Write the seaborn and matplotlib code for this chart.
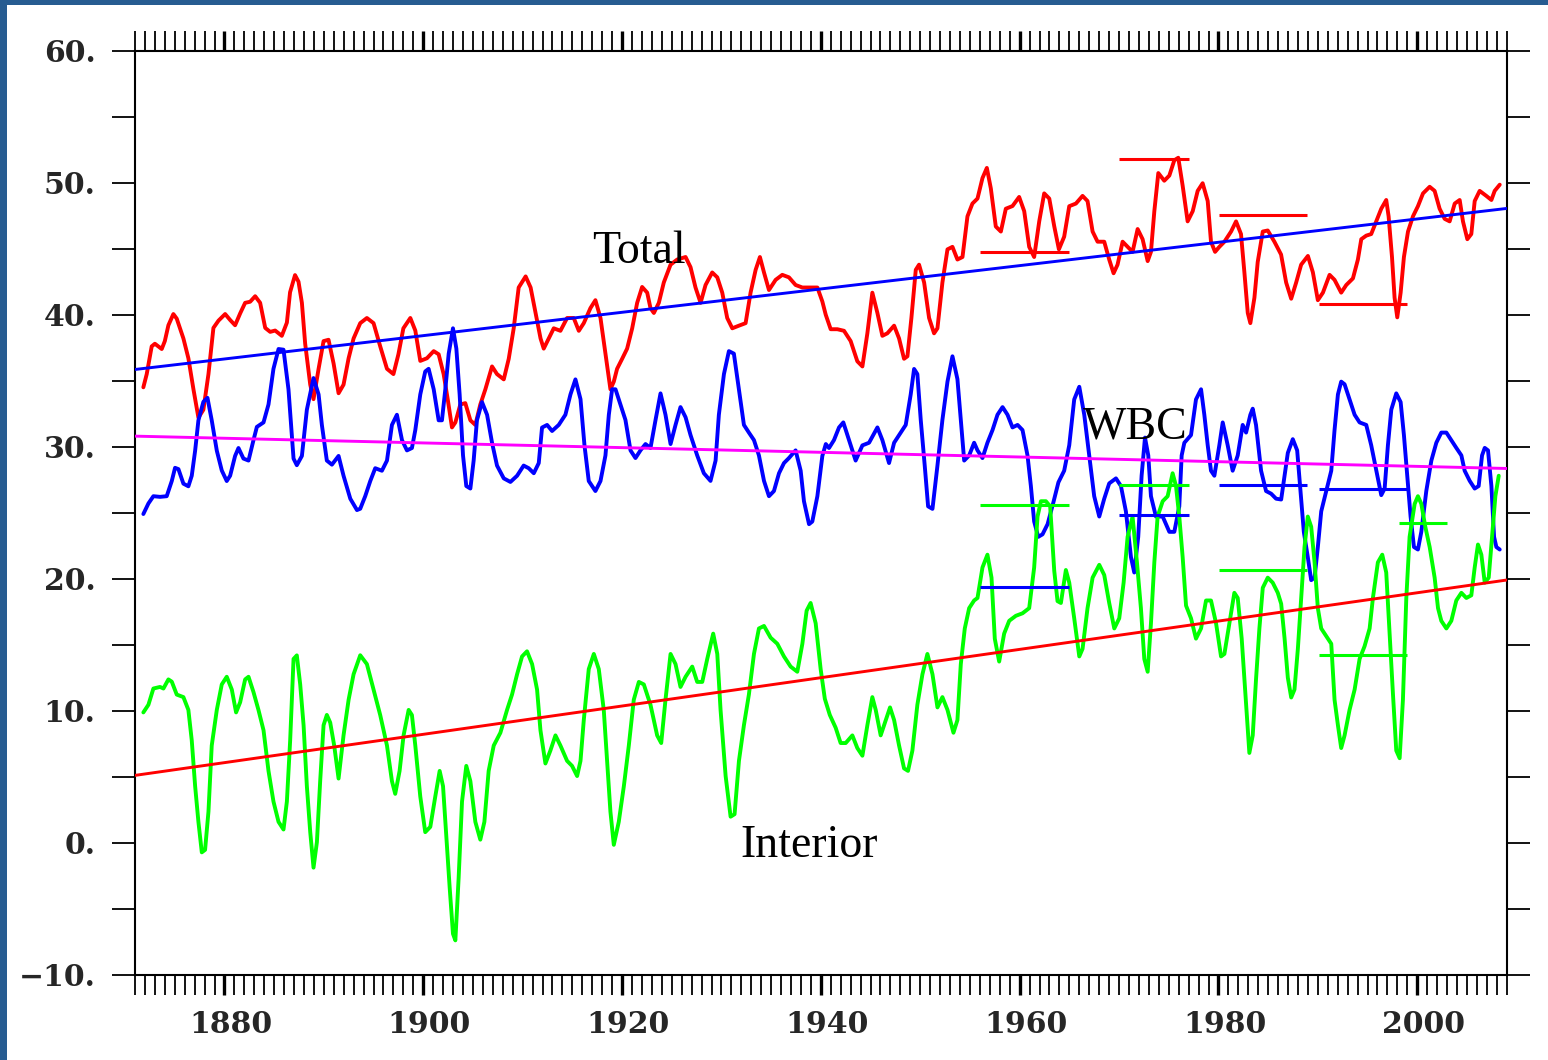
import matplotlib
matplotlib.use("Agg")
import matplotlib.pyplot as plt
import pandas as pd
import seaborn as sns
from matplotlib.ticker import MultipleLocator, FuncFormatter
from matplotlib.transforms import ScaledTranslation
from matplotlib.patches import Rectangle

# ---------------------------------------------------------------- data
total_years = [
    1871.84, 1872.18, 1872.68, 1873.0, 1873.69, 1874.0, 1874.36, 1874.86, 1875.2, 1875.87,
    1876.37, 1876.88, 1877.38, 1877.88, 1878.39, 1878.89, 1879.4, 1880.07, 1880.57, 1881.07,
    1881.58, 1882.08, 1882.58, 1883.09, 1883.59, 1884.1, 1884.6, 1885.1, 1885.77, 1886.28,
    1886.6, 1887.1, 1887.45, 1887.79, 1888.12, 1888.63, 1888.96, 1889.47, 1889.97, 1890.47,
    1890.98, 1891.48, 1891.98, 1892.49, 1892.99, 1893.66, 1894.33, 1895.0, 1895.67, 1896.35,
    1897.0, 1897.5, 1898.0, 1898.7, 1899.2, 1899.7, 1900.37, 1901.05, 1901.55, 1902.05,
    1902.46, 1902.89, 1903.23, 1903.73, 1904.23, 1904.74, 1905.24, 1905.74, 1906.25, 1906.92,
    1907.42, 1908.1, 1908.6, 1909.1, 1909.6, 1910.3, 1910.8, 1911.3, 1911.8, 1912.12,
    1912.63, 1913.13, 1913.8, 1914.47, 1915.14, 1915.65, 1916.15, 1916.82, 1917.32, 1917.83,
    1918.33, 1918.83, 1919.17, 1919.5, 1920.01, 1920.51, 1921.02, 1921.52, 1922.02, 1922.53,
    1922.86, 1923.2, 1923.7, 1924.2, 1924.88, 1925.55, 1926.39, 1926.89, 1927.39, 1927.9,
    1928.4, 1929.07, 1929.58, 1930.08, 1930.58, 1931.09, 1931.76, 1932.43, 1932.93, 1933.44,
    1933.87, 1934.28, 1934.78, 1935.45, 1936.12, 1936.79, 1937.46, 1938.14, 1938.97, 1939.65,
    1940.15, 1940.49, 1940.99, 1941.66, 1942.33, 1943.0, 1943.67, 1944.18, 1944.68, 1945.18,
    1945.69, 1946.19, 1946.69, 1947.37, 1947.87, 1948.37, 1948.71, 1949.11, 1949.55, 1949.88,
    1950.39, 1950.89, 1951.39, 1951.73, 1952.23, 1952.74, 1953.24, 1953.74, 1954.25, 1954.75,
    1955.25, 1955.76, 1956.26, 1956.7, 1957.1, 1957.6, 1958.11, 1958.61, 1959.28, 1959.95,
    1960.46, 1960.96, 1961.46, 1961.97, 1962.47, 1962.98, 1963.48, 1963.95, 1964.48, 1964.99,
    1965.66, 1966.33, 1966.83, 1967.34, 1967.84, 1968.51, 1969.01, 1969.45, 1969.85, 1970.36,
    1970.86, 1971.36, 1971.87, 1972.37, 1972.88, 1973.21, 1973.55, 1973.95, 1974.55, 1975.06,
    1975.56, 1975.96, 1976.4, 1976.9, 1977.41, 1977.91, 1978.41, 1978.92, 1979.25, 1979.66,
    1980.09, 1980.6, 1981.27, 1981.77, 1982.27, 1982.61, 1982.95, 1983.21, 1983.62, 1983.95,
    1984.46, 1984.96, 1985.63, 1986.3, 1986.81, 1987.32, 1987.82, 1988.32, 1989.0, 1989.5,
    1990.0, 1990.51, 1991.18, 1991.68, 1992.35, 1992.86, 1993.53, 1994.03, 1994.37, 1994.87,
    1995.37, 1995.88, 1996.38, 1996.88, 1997.12, 1997.46, 1997.72, 1997.99, 1998.33, 1998.66,
    1999.07, 1999.57, 2000.07, 2000.58, 2001.25, 2001.75, 2002.25, 2002.76, 2003.26, 2003.77,
    2004.27, 2004.6, 2005.04, 2005.44, 2005.78, 2006.28, 2006.95, 2007.46, 2007.79, 2008.3,
]
total_values = [
    34.5, 35.5, 37.6, 37.8, 37.4, 38.0, 39.2, 40.05, 39.7, 38.2,
    36.7, 34.35, 32.2, 32.8, 35.5, 39.0, 39.55, 40.05, 39.6, 39.2,
    40.1, 40.9, 40.98, 41.4, 40.9, 39.0, 38.7, 38.8, 38.4, 39.4,
    41.7, 43.0, 42.5, 40.9, 37.8, 34.7, 33.6, 35.9, 38.0, 38.1,
    36.3, 34.05, 34.7, 36.7, 38.2, 39.36, 39.75, 39.36, 37.6, 35.9,
    35.5, 37.0, 38.97, 39.75, 38.8, 36.5, 36.7, 37.24, 37.0, 35.5,
    33.6, 31.46, 31.84, 33.2, 33.3, 32.0, 31.65, 33.2, 34.35, 36.08,
    35.5, 35.1, 36.66, 38.97, 42.06, 42.9, 42.06, 40.13, 38.2, 37.43,
    38.2, 38.97, 38.78, 39.75, 39.75, 38.78, 39.36, 40.5, 41.1, 39.75,
    37.05, 34.35, 34.93, 35.9, 36.66, 37.43, 38.97, 40.9, 42.1, 41.67,
    40.5, 40.13, 40.9, 42.44, 43.79, 44.18, 44.37, 43.6, 42.06, 40.9,
    42.25, 43.2, 42.83, 41.67, 39.75, 38.97, 39.17, 39.36, 41.67, 43.4,
    44.37, 43.2, 41.87, 42.64, 43.02, 42.83, 42.25, 42.06, 42.06, 42.06,
    41.0, 40.0, 38.9, 38.9, 38.78, 38.0, 36.47, 36.08, 38.59, 41.67,
    40.13, 38.4, 38.59, 39.17, 38.2, 36.66, 36.85, 39.75, 43.4, 43.79,
    42.44, 39.75, 38.59, 38.97, 42.44, 44.95, 45.14, 44.18, 44.37, 47.45,
    48.42, 48.8, 50.35, 51.12, 49.57, 46.68, 46.3, 48.03, 48.23, 48.92,
    47.84, 45.14, 44.37, 47.07, 49.19, 48.8, 46.7, 44.95, 45.91, 48.22,
    48.42, 49.0, 48.61, 46.3, 45.53, 45.53, 44.18, 43.14, 43.79, 45.53,
    45.14, 44.76, 46.49, 45.72, 44.06, 44.76, 47.84, 50.73, 50.15, 50.54,
    51.7, 51.89, 49.77, 47.07, 47.84, 49.38, 49.96, 48.61, 45.53, 44.76,
    45.14, 45.53, 46.3, 47.07, 46.11, 43.21, 40.13, 39.36, 41.29, 43.99,
    46.3, 46.38, 45.53, 44.56, 42.44, 41.21, 42.44, 43.79, 44.45, 43.21,
    41.1, 41.67, 43.02, 42.64, 41.67, 42.25, 42.75, 44.18, 45.72, 45.99,
    46.11, 47.07, 48.03, 48.69, 47.45, 44.37, 41.29, 39.8, 41.67, 44.37,
    46.3, 47.45, 48.22, 49.19, 49.69, 49.38, 48.03, 47.26, 47.07, 48.42,
    48.69, 47.07, 45.72, 46.11, 48.61, 49.38, 49.0, 48.69, 49.38, 49.85,
]

wbc_years = [
    1871.84, 1872.35, 1872.85, 1873.52, 1874.19, 1874.7, 1875.03, 1875.37, 1875.87, 1876.37,
    1876.71, 1877.05, 1877.38, 1877.88, 1878.29, 1878.72, 1879.23, 1879.73, 1880.23, 1880.57,
    1881.07, 1881.41, 1881.91, 1882.42, 1882.92, 1883.26, 1883.93, 1884.43, 1884.93, 1885.44,
    1885.94, 1886.44, 1886.95, 1887.28, 1887.79, 1888.29, 1888.96, 1889.47, 1889.8, 1890.3,
    1890.81, 1891.48, 1891.98, 1892.66, 1893.33, 1893.66, 1894.16, 1894.67, 1895.17, 1895.84,
    1896.35, 1896.85, 1897.35, 1897.86, 1898.36, 1898.86, 1899.2, 1899.7, 1900.2, 1900.54,
    1901.05, 1901.55, 1901.88, 1902.22, 1902.56, 1902.99, 1903.33, 1903.66, 1904.0, 1904.33,
    1904.74, 1905.07, 1905.4, 1905.91, 1906.42, 1906.92, 1907.42, 1908.1, 1908.77, 1909.44,
    1910.1, 1910.61, 1911.12, 1911.62, 1911.95, 1912.46, 1912.96, 1913.63, 1914.3, 1914.81,
    1915.31, 1915.82, 1916.22, 1916.65, 1917.32, 1917.83, 1918.33, 1918.67, 1919.0, 1919.34,
    1919.84, 1920.34, 1920.85, 1921.35, 1921.85, 1922.36, 1922.86, 1923.37, 1923.87, 1924.37,
    1924.88, 1925.38, 1925.88, 1926.39, 1926.89, 1927.56, 1928.23, 1928.9, 1929.41, 1929.74,
    1930.25, 1930.75, 1931.25, 1931.76, 1932.26, 1932.76, 1933.27, 1933.77, 1934.28, 1934.78,
    1935.28, 1935.79, 1936.29, 1936.79, 1937.46, 1937.97, 1938.3, 1938.81, 1939.14, 1939.65,
    1940.15, 1940.5, 1940.82, 1941.32, 1941.83, 1942.26, 1942.83, 1943.5, 1944.18, 1944.85,
    1945.69, 1946.19, 1946.86, 1947.37, 1948.04, 1948.54, 1949.04, 1949.38, 1949.71, 1950.05,
    1950.45, 1950.79, 1951.23, 1951.73, 1952.23, 1952.74, 1953.24, 1953.74, 1954.08, 1954.42,
    1954.92, 1955.42, 1955.76, 1956.26, 1956.76, 1957.27, 1957.77, 1958.28, 1958.78, 1959.28,
    1959.79, 1960.29, 1960.79, 1961.13, 1961.46, 1961.87, 1962.3, 1962.81, 1963.4, 1963.9,
    1964.48, 1964.99, 1965.49, 1966.0, 1966.5, 1967.0, 1967.5, 1968.01, 1968.51, 1969.01,
    1969.69, 1970.19, 1970.69, 1971.2, 1971.53, 1971.93, 1972.27, 1972.61, 1972.94, 1973.21,
    1973.71, 1974.39, 1975.06, 1975.56, 1976.06, 1976.3, 1976.57, 1977.24, 1977.74, 1978.25,
    1978.58, 1978.92, 1979.25, 1979.59, 1980.09, 1980.43, 1980.93, 1981.43, 1981.94, 1982.44,
    1982.78, 1983.21, 1983.45, 1983.78, 1984.29, 1984.79, 1985.3, 1985.8, 1986.31, 1986.65,
    1986.98, 1987.48, 1987.92, 1988.26, 1988.59, 1988.99, 1989.33, 1989.67, 1990.0, 1990.34,
    1990.84, 1991.35, 1991.68, 1992.02, 1992.35, 1992.69, 1993.19, 1993.7, 1994.2, 1994.87,
    1995.37, 1995.88, 1996.38, 1996.72, 1997.05, 1997.39, 1997.89, 1998.33, 1998.66, 1999.0,
    1999.33, 1999.67, 2000.07, 2000.41, 2000.91, 2001.42, 2001.92, 2002.42, 2002.93, 2003.43,
    2003.93, 2004.44, 2004.77, 2005.28, 2005.78, 2006.18, 2006.52, 2006.79, 2007.12, 2007.46,
    2007.73, 2007.96, 2008.3,
]
wbc_values = [
    24.9, 25.7, 26.25, 26.2, 26.25, 27.4, 28.4, 28.3, 27.2, 27.0,
    27.8, 29.7, 32.0, 33.4, 33.7, 32.0, 29.7, 28.2, 27.4, 27.8,
    29.3, 29.9, 29.1, 28.95, 30.5, 31.5, 31.84, 33.2, 35.9, 37.4,
    37.35, 34.35, 29.1, 28.6, 29.3, 32.8, 35.2, 33.96, 31.65, 28.95,
    28.64, 29.3, 27.8, 26.06, 25.2, 25.3, 26.25, 27.4, 28.37, 28.18,
    28.95, 31.65, 32.42, 30.5, 29.72, 29.9, 31.26, 33.96, 35.7, 35.9,
    34.35, 32.0, 32.0, 34.35, 37.05, 38.97, 37.43, 33.96, 29.34, 27.02,
    26.83, 28.95, 32.0, 33.38, 32.42, 30.3, 28.57, 27.6, 27.33, 27.8,
    28.57, 28.37, 27.99, 28.76, 31.45, 31.65, 31.19, 31.65, 32.42, 33.96,
    35.1, 33.6, 30.1, 27.4, 26.64, 27.4, 29.34, 32.42, 34.35, 34.35,
    33.19, 32.03, 29.72, 29.14, 29.72, 30.2, 29.9, 32.03, 34.04, 32.42,
    30.2, 31.65, 33.0, 32.23, 30.88, 29.34, 27.99, 27.41, 28.95, 32.42,
    35.5, 37.24, 37.05, 34.35, 31.65, 31.07, 30.5, 29.34, 27.41, 26.25,
    26.64, 27.99, 28.76, 29.14, 29.72, 28.18, 25.87, 24.13, 24.33, 26.25,
    29.3, 30.2, 29.9, 30.5, 31.46, 31.84, 30.5, 28.95, 30.1, 30.3,
    31.46, 30.5, 28.76, 30.3, 31.07, 31.65, 33.96, 35.89, 35.5, 32.03,
    28.57, 25.48, 25.29, 28.57, 32.03, 34.93, 36.85, 35.12, 32.03, 28.95,
    29.34, 30.3, 29.72, 29.14, 30.3, 31.26, 32.42, 33.0, 32.42, 31.46,
    31.65, 31.26, 29.34, 27.02, 24.33, 23.17, 23.36, 24.13, 25.8, 27.3,
    28.18, 30.11, 33.58, 34.54, 32.42, 29.34, 26.25, 24.71, 26.06, 27.22,
    27.6, 27.02, 25.1, 21.63, 20.47, 23.17, 27.8, 30.69, 29.34, 26.25,
    24.71, 24.71, 23.55, 23.55, 25.48, 29.34, 30.3, 30.88, 33.58, 34.35,
    32.42, 30.11, 28.18, 27.8, 30.11, 31.84, 30.11, 28.18, 29.34, 31.65,
    31.07, 32.42, 32.88, 31.65, 28.18, 26.64, 26.44, 26.06, 26.0, 27.8,
    29.53, 30.57, 29.72, 26.64, 23.55, 21.63, 19.89, 20.08, 22.4, 25.1,
    26.64, 28.18, 31.26, 33.96, 34.93, 34.73, 33.58, 32.42, 31.84, 31.65,
    30.11, 28.18, 26.33, 26.83, 30.11, 32.81, 34.04, 33.38, 30.88, 27.8,
    24.71, 22.4, 22.21, 23.55, 26.64, 28.95, 30.3, 31.07, 31.07, 30.49,
    29.91, 29.34, 28.18, 27.41, 26.83, 27.02, 29.34, 29.91, 29.72, 27.02,
    23.17, 22.4, 22.21,
]

interior_years = [
    1871.84, 1872.35, 1872.85, 1873.52, 1873.86, 1874.36, 1874.7, 1875.2, 1875.87, 1876.37,
    1876.71, 1877.05, 1877.38, 1877.72, 1878.05, 1878.39, 1878.72, 1879.23, 1879.73, 1880.23,
    1880.74, 1881.17, 1881.58, 1882.08, 1882.42, 1882.92, 1883.42, 1883.93, 1884.43, 1884.93,
    1885.44, 1885.94, 1886.28, 1886.61, 1886.95, 1887.28, 1887.62, 1887.96, 1888.29, 1888.63,
    1888.96, 1889.3, 1889.63, 1889.97, 1890.3, 1890.64, 1891.04, 1891.48, 1891.98, 1892.49,
    1892.99, 1893.66, 1894.33, 1895.0, 1895.67, 1896.35, 1896.85, 1897.18, 1897.62, 1898.02,
    1898.53, 1898.86, 1899.2, 1899.7, 1900.2, 1900.71, 1901.21, 1901.65, 1901.99, 1902.32,
    1902.66, 1902.99, 1903.23, 1903.56, 1903.9, 1904.33, 1904.74, 1905.24, 1905.74, 1906.15,
    1906.58, 1907.09, 1907.76, 1908.43, 1908.93, 1909.44, 1909.94, 1910.44, 1910.95, 1911.45,
    1911.79, 1912.29, 1912.79, 1913.3, 1913.8, 1914.47, 1914.97, 1915.48, 1915.82, 1916.15,
    1916.65, 1917.16, 1917.66, 1918.16, 1918.5, 1918.83, 1919.17, 1919.67, 1920.18, 1920.68,
    1921.18, 1921.69, 1922.19, 1922.86, 1923.53, 1923.94, 1924.37, 1924.88, 1925.38, 1925.88,
    1926.39, 1927.06, 1927.56, 1928.07, 1928.57, 1929.17, 1929.58, 1929.91, 1930.42, 1930.92,
    1931.32, 1931.76, 1932.26, 1932.76, 1933.27, 1933.77, 1934.28, 1934.95, 1935.62, 1936.29,
    1936.96, 1937.63, 1938.14, 1938.57, 1938.97, 1939.48, 1939.98, 1940.4, 1940.9, 1941.49,
    1941.99, 1942.5, 1943.17, 1943.67, 1944.18, 1944.68, 1945.18, 1945.52, 1946.02, 1946.53,
    1946.96, 1947.37, 1947.87, 1948.37, 1948.77, 1949.21, 1949.71, 1950.22, 1950.72, 1951.23,
    1951.73, 1952.23, 1952.74, 1953.34, 1953.74, 1954.08, 1954.48, 1954.92, 1955.42, 1955.76,
    1956.26, 1956.76, 1957.17, 1957.5, 1957.94, 1958.44, 1958.95, 1959.62, 1960.29, 1960.96,
    1961.46, 1961.8, 1962.14, 1962.64, 1963.07, 1963.48, 1963.81, 1964.15, 1964.65, 1964.99,
    1965.49, 1966.0, 1966.33, 1966.83, 1967.34, 1968.01, 1968.51, 1969.01, 1969.52, 1970.02,
    1970.46, 1970.86, 1971.36, 1971.8, 1972.2, 1972.54, 1972.88, 1973.21, 1973.55, 1973.88,
    1974.39, 1974.89, 1975.39, 1975.73, 1976.06, 1976.4, 1976.74, 1977.24, 1977.74, 1978.25,
    1978.75, 1979.25, 1979.76, 1980.26, 1980.6, 1981.1, 1981.6, 1981.94, 1982.34, 1982.68,
    1983.11, 1983.45, 1983.78, 1984.12, 1984.46, 1984.96, 1985.46, 1985.97, 1986.31, 1986.65,
    1986.98, 1987.32, 1987.65, 1987.99, 1988.32, 1988.66, 1988.99, 1989.33, 1989.67, 1990.0,
    1990.34, 1990.84, 1991.35, 1991.68, 1992.02, 1992.35, 1992.69, 1993.19, 1993.7, 1994.2,
    1994.7, 1995.21, 1995.54, 1996.04, 1996.48, 1996.88, 1997.22, 1997.56, 1997.89, 1998.23,
    1998.56, 1998.9, 1999.23, 1999.74, 2000.07, 2000.41, 2000.81, 2001.25, 2001.75, 2002.09,
    2002.42, 2002.93, 2003.43, 2003.93, 2004.44, 2004.94, 2005.44, 2005.78, 2006.11, 2006.45,
    2006.79, 2007.19, 2007.53, 2007.86, 2008.2,
]
interior_values = [
    9.87, 10.45, 11.68, 11.8, 11.68, 12.37, 12.2, 11.22, 11.03, 10.06,
    7.75, 4.28, 1.58, -0.73, -0.54, 2.35, 7.36, 10.06, 11.99, 12.57,
    11.6, 9.87, 10.64, 12.37, 12.57, 11.41, 10.06, 8.52, 5.44, 3.12,
    1.58, 1.0, 3.12, 7.75, 13.92, 14.19, 11.99, 8.9, 4.28, 0.8,
    -1.89, 0.04, 4.67, 8.9, 9.68, 9.1, 7.36, 4.86, 8.13, 10.83,
    12.76, 14.2, 13.53, 11.6, 9.67, 7.36, 4.66, 3.7, 5.44, 8.13,
    10.06, 9.67, 7.36, 3.5, 0.8, 1.2, 3.5, 5.44, 4.28, 0.42,
    -3.43, -6.9, -7.4, -2.66, 3.12, 5.82, 4.66, 1.58, 0.23, 1.58,
    5.44, 7.36, 8.33, 10.06, 11.22, 12.76, 14.11, 14.5, 13.53, 11.6,
    8.52, 6.0, 6.98, 8.13, 7.36, 6.2, 5.82, 5.05, 6.2, 9.29,
    13.15, 14.3, 13.15, 10.06, 6.2, 2.35, -0.16, 1.58, 4.28, 7.36,
    10.83, 12.18, 11.99, 10.45, 8.13, 7.55, 10.83, 14.3, 13.53, 11.8,
    12.57, 13.34, 12.18, 12.18, 13.92, 15.84, 14.3, 10.06, 5.05, 1.97,
    2.16, 6.2, 8.9, 11.22, 14.3, 16.23, 16.42, 15.53, 15.07, 14.11,
    13.34, 12.95, 15.07, 17.58, 18.16, 16.62, 13.15, 10.9, 9.68, 8.71,
    7.55, 7.55, 8.13, 7.17, 6.59, 8.9, 11.03, 10.06, 8.13, 9.29,
    10.25, 9.29, 7.36, 5.63, 5.44, 6.98, 10.45, 12.76, 14.3, 12.76,
    10.25, 11.03, 10.06, 8.33, 9.29, 13.53, 16.23, 17.77, 18.35, 18.54,
    20.85, 21.82, 20.08, 15.45, 13.72, 15.84, 16.81, 17.19, 17.38, 17.77,
    20.85, 24.71, 25.87, 25.87, 25.48, 20.6, 18.3, 18.16, 20.66, 19.7,
    17.0, 14.11, 14.69, 17.77, 20.08, 21.05, 20.28, 18.16, 16.23, 17.0,
    19.7, 23.17, 24.71, 21.24, 17.77, 13.92, 12.95, 16.62, 21.24, 24.71,
    25.87, 26.25, 27.99, 27.02, 24.71, 21.63, 17.96, 17.0, 15.46, 16.23,
    18.35, 18.35, 16.62, 14.11, 14.3, 16.62, 18.93, 18.54, 15.46, 11.6,
    6.8, 8.13, 12.37, 16.23, 19.31, 20.08, 19.7, 18.93, 18.1, 15.5,
    12.5, 11.0, 11.6, 14.69, 18.54, 22.4, 24.71, 23.94, 21.24, 17.77,
    16.23, 15.65, 15.07, 10.83, 8.9, 7.17, 8.13, 10.06, 11.6, 13.92,
    14.88, 16.23, 18.54, 21.24, 21.82, 20.47, 15.84, 11.22, 6.98, 6.4,
    10.83, 18.54, 23.17, 25.67, 26.25, 25.67, 23.94, 22.4, 20.08, 17.77,
    16.81, 16.23, 16.81, 18.35, 18.93, 18.54, 18.74, 20.85, 22.59, 21.82,
    19.7, 20.08, 23.17, 26.25, 27.8,
]

# linear trends, given by their end points
trend_years = [1871.0, 2009.0]
total_trend = [35.85, 48.05]
wbc_trend = [30.8, 28.35]
interior_trend = [5.1, 19.9]

# period means: start year, end year, level
red_period_start = [1956.0, 1970.0, 1980.1, 1990.1]
red_period_end = [1965.0, 1977.0, 1988.9, 1999.0]
red_period_level = [44.75, 51.8, 47.55, 40.8]

blue_period_start = [1956.0, 1970.0, 1980.1, 1990.1]
blue_period_end = [1965.0, 1977.0, 1988.9, 1999.0]
blue_period_level = [19.4, 24.8, 27.1, 26.8]

green_period_start = [1956.0, 1970.0, 1980.1, 1990.1, 1998.2]
green_period_end = [1965.0, 1977.0, 1988.9, 1999.0, 2003.0]
green_period_level = [25.6, 27.1, 20.65, 14.2, 24.2]

y_tick_values = [-10, 0, 10, 20, 30, 40, 50, 60]
x_tick_years = [1880, 1900, 1920, 1940, 1960, 1980, 2000]

# ---------------------------------------------------------------- style
sns.set_style("ticks")
plt.rcParams["font.family"] = ["DejaVu Serif", "DejaVu Sans"]

RED = "#ff0000"
BLUE = "#0000ff"
GREEN = "#00ff00"
MAGENTA = "#ff00ff"
FRAME = "#275c91"

W, H = 1548, 1060
fig = plt.figure(figsize=(W / 100, H / 100), dpi=100)
fig.patch.set_facecolor("white")
left, right, top, bottom = 135, 1506.7, 50.7, 974.7
ax = fig.add_axes([left / W, 1 - bottom / H, (right - left) / W, (bottom - top) / H])
ax.set_facecolor("white")

# dark frame strips along the left and top edges
fig.patches.append(Rectangle((0, 0), 7 / W, 1, transform=fig.transFigure,
                             facecolor=FRAME, edgecolor="none", zorder=0))
fig.patches.append(Rectangle((0, 1 - 5 / H), 1, 5 / H, transform=fig.transFigure,
                             facecolor=FRAME, edgecolor="none", zorder=0))


def series(years, values, color, lw, z):
    df = pd.DataFrame({"year": years, "value": values})
    sns.lineplot(data=df, x="year", y="value", color=color, linewidth=lw,
                 estimator=None, sort=False, ax=ax, zorder=z)


series(total_years, total_values, RED, 2.8, 3)
series(wbc_years, wbc_values, BLUE, 2.8, 3)
series(interior_years, interior_values, GREEN, 2.8, 3)

series(trend_years, total_trend, BLUE, 2.1, 4)
series(trend_years, wbc_trend, MAGENTA, 2.1, 4)
series(trend_years, interior_trend, RED, 2.1, 4)

for starts, ends, levels, color in [
    (red_period_start, red_period_end, red_period_level, RED),
    (blue_period_start, blue_period_end, blue_period_level, BLUE),
    (green_period_start, green_period_end, green_period_level, GREEN),
]:
    ax.hlines(levels, starts, ends, colors=color, linewidth=2.2, zorder=5)

# series names
label_font = dict(family=["Liberation Serif", "DejaVu Serif"], fontsize=33,
                  ha="left", va="baseline", color="black", zorder=6)
ax.text(1917.0, 43.9, "Total", **label_font)
ax.text(1966.4, 30.65, "WBC", **label_font)
ax.text(1931.9, -1.1, "Interior", **label_font)

# ---------------------------------------------------------------- axes
ax.set_xlim(1871, 2009)
ax.set_ylim(-10, 60)
ax.set_xlabel("")
ax.set_ylabel("")

ax.set_xticks(x_tick_years)
ax.set_xticklabels([str(y) for y in x_tick_years])
ax.xaxis.set_minor_locator(MultipleLocator(1))
ax.set_yticks(y_tick_values)
ax.yaxis.set_major_formatter(FuncFormatter(lambda v, p: f"{int(round(v))}.".replace("-", "\u2212")))
ax.yaxis.set_minor_locator(MultipleLocator(5))

ax.tick_params(axis="x", which="both", direction="out", top=True, bottom=True,
               length=14.5, color="black", pad=11)
ax.tick_params(axis="x", which="major", width=2.4)
ax.tick_params(axis="x", which="minor", width=1.3)
ax.tick_params(axis="y", which="both", direction="out", left=True, right=True,
               length=16.5, width=1.3, color="black", pad=12)

for lab in ax.get_xticklabels() + ax.get_yticklabels():
    lab.set_fontsize(21.5)
    lab.set_fontweight("bold")
    lab.set_family(["DejaVu Serif", "DejaVu Sans"])
for lab in ax.get_xticklabels():
    lab.set_transform(lab.get_transform() + ScaledTranslation(6 / 100, 0, fig.dpi_scale_trans))

for side in ["left", "right", "top", "bottom"]:
    ax.spines[side].set_visible(True)
    ax.spines[side].set_linewidth(1.5)
    ax.spines[side].set_color("black")

fig.savefig("out.png", dpi=100, facecolor="white")
